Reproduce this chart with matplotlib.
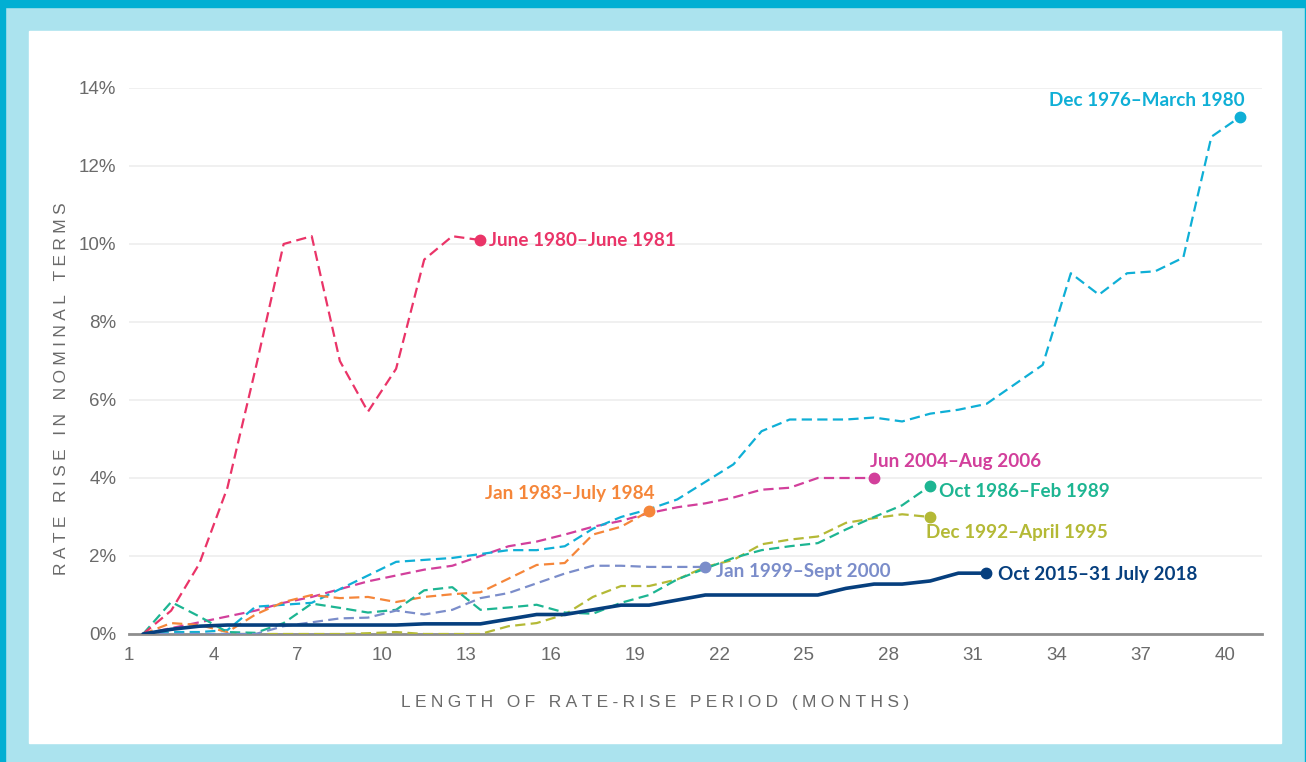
import numpy as np
import matplotlib
matplotlib.use('Agg')
import matplotlib.pyplot as plt
from matplotlib.patches import Rectangle

# rate rise (%) by month of each rate-rise period
dec76_mar80 = [0, 0.05, 0.05, 0.1, 0.7, 0.75, 0.8, 1.15, 1.5, 1.85, 1.9, 1.95, 2.05, 2.15,
               2.15, 2.25, 2.7, 3.0, 3.2, 3.45, 3.9, 4.35, 5.2, 5.5, 5.5, 5.5, 5.55, 5.45,
               5.65, 5.75, 5.9, 6.4, 6.9, 9.25, 8.7, 9.25, 9.3, 9.65, 12.75, 13.25]
jun80_jun81 = [0, 0.6, 1.8, 3.75, 6.8, 10.0, 10.2, 7.0, 5.7, 6.8, 9.6, 10.2, 10.1]
jun04_aug06 = [0, 0.15, 0.3, 0.45, 0.6, 0.8, 0.95, 1.15, 1.35, 1.5, 1.65, 1.75, 2.0, 2.25,
               2.37, 2.55, 2.75, 2.9, 3.1, 3.25, 3.35, 3.5, 3.7, 3.75, 4.0, 4.0, 4.0]
jan83_jul84 = [0, 0.28, 0.23, 0.05, 0.5, 0.82, 1.0, 0.92, 0.95, 0.82, 0.95, 1.02, 1.07, 1.42,
               1.77, 1.82, 2.55, 2.75, 3.15]
oct86_feb89 = [0, 0.82, 0.45, 0.05, 0.03, 0.28, 0.78, 0.67, 0.55, 0.62, 1.12, 1.2, 0.62, 0.68,
               0.75, 0.55, 0.52, 0.8, 1.0, 1.4, 1.68, 1.95, 2.15, 2.25, 2.33, 2.68, 3.0, 3.3, 3.8]
dec92_apr95 = [0, 0, 0, 0, 0, 0, 0, 0, 0.02, 0.05, 0, 0, 0, 0.2, 0.28, 0.5, 0.95, 1.23, 1.23,
               1.4, 1.72, 1.9, 2.3, 2.42, 2.5, 2.85, 2.97, 3.07, 3.0]
jan99_sep00 = [0, 0, 0, 0, 0, 0.2, 0.3, 0.4, 0.42, 0.6, 0.5, 0.62, 0.92, 1.05, 1.3, 1.55,
               1.75, 1.75, 1.72, 1.72, 1.72]
oct15_jul18 = [0, 0.12, 0.2, 0.23, 0.23, 0.23, 0.23, 0.23, 0.23, 0.23, 0.26, 0.26, 0.26, 0.38,
               0.5, 0.5, 0.62, 0.74, 0.74, 0.87, 1.0, 1.0, 1.0, 1.0, 1.0, 1.17, 1.28, 1.28,
               1.36, 1.56, 1.56]

tick_months = list(range(1, 41, 3))
y_ticks = list(range(0, 15, 2))

# (values, label, colour, solid?, label offset in points, ha)
series = [
    (jun04_aug06, 'Jun 2004\u2013Aug 2006', '#d23f9b', False, (-3, 12), 'left'),
    (dec76_mar80, 'Dec 1976\u2013March 1980', '#0fafd6', False, (4, 12), 'right'),
    (jan83_jul84, 'Jan 1983\u2013July 1984', '#f5863a', False, (4, 13), 'right'),
    (dec92_apr95, 'Dec 1992\u2013April 1995', '#b4b936', False, (-3, -11), 'left'),
    (oct86_feb89, 'Oct 1986\u2013Feb 1989', '#1db592', False, (6, -4), 'left'),
    (jan99_sep00, 'Jan 1999\u2013Sept 2000', '#7b8dca', False, (8, -3), 'left'),
    (jun80_jun81, 'June 1980\u2013June 1981', '#ea3468', False, (6, 0), 'left'),
    (oct15_jul18, 'Oct 2015\u201331 July 2018', '#063f7e', True, (8, -1), 'left'),
]

fig = plt.figure(figsize=(13.06, 7.62), dpi=100, facecolor='#abe3ee')
# frame: darker strips on top / left / right, white panel inside
frame = [
    ((0, 1 - 7 / 762), 1, 7 / 762, '#00afd3'),
    ((0, 0), 5 / 1306, 1, '#00afd3'),
    ((1 - 1 / 1306, 0), 1 / 1306, 1, '#00afd3'),
    ((29 / 1306, 19 / 762), 1252 / 1306, 712 / 762, 'white'),
]
for xy, w, h, c in frame:
    fig.patches.append(Rectangle(xy, w, h, transform=fig.transFigure, color=c, zorder=-1))

ax = fig.add_axes([129 / 1306, 128 / 762, 1133 / 1306, 546 / 762])
ax.set_facecolor('none')
ax.set_zorder(1)

for vals, label, color, solid, offset, ha in series:
    months = np.arange(1, len(vals) + 1)
    if solid:
        ax.plot(months, vals, color=color, lw=2.6, solid_capstyle='round',
                solid_joinstyle='round', zorder=4)
    else:
        ax.plot(months, vals, color=color, lw=1.6, dashes=(4.6, 2.4), zorder=3)
    ax.plot(months[-1], vals[-1], 'o', color=color, ms=7.5, zorder=5)
    ax.annotate(label, (months[-1], vals[-1]), xytext=offset, textcoords='offset points',
                ha=ha, va='center', color=color, fontsize=13.6, fontweight='bold',
                family='Lato', zorder=6)

ax.set_xlim(0.5, 40.8)
ax.set_ylim(0, 14)
ax.set_yticks(y_ticks, labels=[f'{v}%' for v in y_ticks])
# tick labels sit a little left of the month points in the original
ax.set_xticks(np.array(tick_months) - 0.5, labels=[str(m) for m in tick_months])
ax.tick_params(length=0, labelsize=13.5, labelcolor='#6a6a6a', labelfontfamily='Liberation Sans')
ax.tick_params(axis='x', pad=9)
ax.tick_params(axis='y', pad=9)
ax.grid(axis='y', color='#ededed', lw=1.2)
ax.set_axisbelow(True)
for side in ['top', 'right', 'left']:
    ax.spines[side].set_visible(False)
ax.spines['bottom'].set_color('#8e8e8e')
ax.spines['bottom'].set_linewidth(2)
ax.spines['bottom'].set_zorder(2)

sp = '\u2005'
fig.text(655 / 1306, 1 - 703 / 762, sp.join('LENGTH OF RATE-RISE PERIOD (MONTHS)'),
         ha='center', va='center', fontsize=12.5, color='#6a6a6a',
         family=['Liberation Sans', 'DejaVu Sans'])
fig.text(62 / 1306, 1 - 389 / 762, sp.join('RATE RISE IN NOMINAL TERMS'),
         ha='center', va='center', rotation=90, fontsize=12.5, color='#6a6a6a',
         family=['Liberation Sans', 'DejaVu Sans'])

fig.savefig('out.png', dpi=100, facecolor=fig.get_facecolor())
